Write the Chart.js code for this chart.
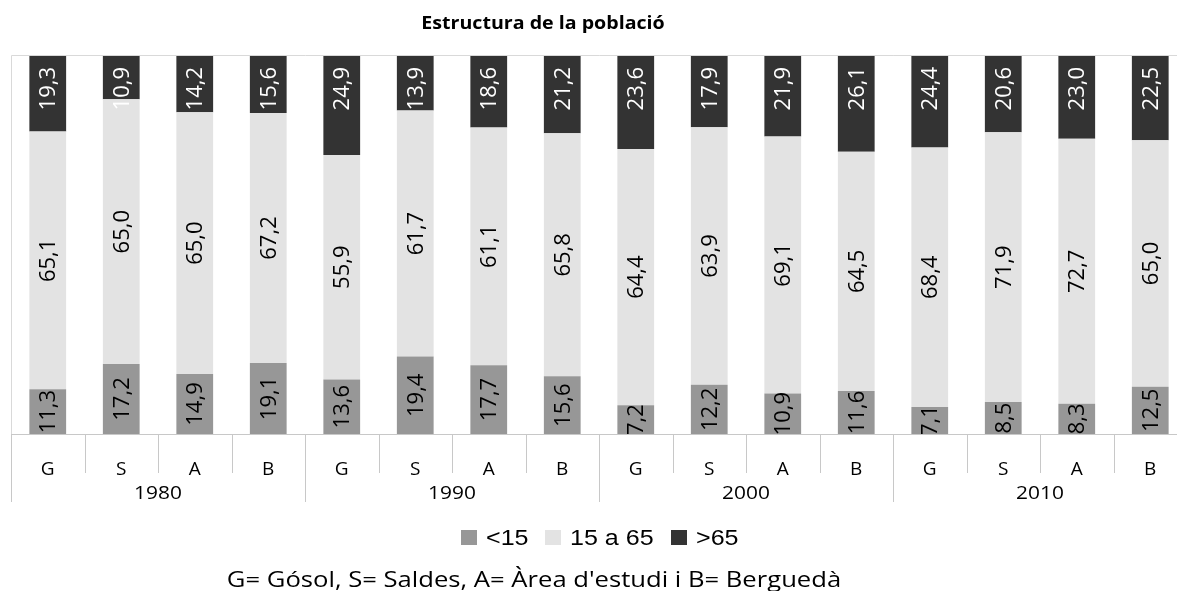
<!DOCTYPE html>
<html>
<head>
<meta charset="utf-8">
<script src="https://cdn.jsdelivr.net/npm/chart.js@4"></script>
<style>
  html, body { margin: 0; padding: 0; background: #fff; overflow: hidden; }
  #wrap { width: 1177px; height: 591px; overflow: hidden; }
</style>
</head>
<body>
<div id="wrap"><canvas id="chart" width="1195" height="591"></canvas></div>
<script>
// === Data ===
const cats = ['G', 'S', 'A', 'B', 'G', 'S', 'A', 'B', 'G', 'S', 'A', 'B', 'G', 'S', 'A', 'B'];
const years = ['1980', '1990', '2000', '2010'];
const under15 = [11.3, 17.2, 14.9, 19.1, 13.6, 19.4, 17.7, 15.6, 7.2, 12.2, 10.9, 11.6, 7.1, 8.5, 8.3, 12.5];
const mid = [65.1, 65.0, 65.0, 67.2, 55.9, 61.7, 61.1, 65.8, 64.4, 63.9, 69.1, 64.5, 68.4, 71.9, 72.7, 65.0];
const over65 = [19.3, 10.9, 14.2, 15.6, 24.9, 13.9, 18.6, 21.2, 23.6, 17.9, 21.9, 26.1, 24.4, 20.6, 23.0, 22.5];
const seriesNames = ['<15', '15 a 65', '>65'];
const colors = ['#979797', '#e3e3e3', '#333333'];

const title = 'Estructura de la població';
const note = "G= Gósol, S= Saldes, A= Àrea d'estudi i B= Berguedà";

// 100% stacked: normalize each column
const raw = [under15, mid, over65];
const totals = cats.map((c, i) => under15[i] + mid[i] + over65[i]);
const pct = raw.map(arr => arr.map((v, i) => v / totals[i] * 100));

const fmt = v => v.toFixed(1).replace('.', ',');

// text drawn a bit wider, like the original (stretched) picture
function wideText(ctx, txt, x, y, sx) {
  ctx.save();
  ctx.translate(x, y);
  ctx.scale(sx, 1);
  ctx.fillText(txt, 0, 0);
  ctx.restore();
}

// === Labels, axis separators, title, legend ===
const decor = {
  id: 'decor',
  afterDatasetsDraw(chart) {
    const ctx = chart.ctx;
    const area = chart.chartArea;
    ctx.save();
    ctx.beginPath();
    ctx.rect(area.left, area.top, area.right - area.left, area.bottom - area.top);
    ctx.clip();
    ctx.font = '22px "Open Sans"';
    ctx.textBaseline = 'middle';
    chart.data.datasets.forEach((ds, d) => {
      const meta = chart.getDatasetMeta(d);
      meta.data.forEach((bar, i) => {
        const txt = fmt(raw[d][i]);
        ctx.save();
        if (d === 2) {
          ctx.translate(bar.x, area.top + 12);
          ctx.rotate(-Math.PI / 2);
          ctx.textAlign = 'right';
          ctx.fillStyle = '#ffffff';
        } else {
          ctx.translate(bar.x, (bar.y + bar.base) / 2);
          ctx.rotate(-Math.PI / 2);
          ctx.textAlign = 'center';
          ctx.fillStyle = '#000000';
        }
        ctx.fillText(txt, 0, 1);
        ctx.restore();
      });
    });
    ctx.restore();
  },
  afterDraw(chart) {
    const ctx = chart.ctx;
    const area = chart.chartArea;
    const x = chart.scales.x;
    const catW = (area.right - area.left) / cats.length;
    ctx.save();

    // plot frame
    ctx.strokeStyle = '#d9d9d9';
    ctx.lineWidth = 1;
    ctx.beginPath();
    ctx.moveTo(area.left + 0.5, area.bottom);
    ctx.lineTo(area.left + 0.5, area.top + 0.5);
    ctx.lineTo(area.right, area.top + 0.5);
    ctx.stroke();

    // category axis line + separators
    ctx.strokeStyle = '#c8c8c8';
    ctx.beginPath();
    ctx.moveTo(area.left, area.bottom + 0.5);
    ctx.lineTo(area.right, area.bottom + 0.5);
    for (let i = 0; i <= cats.length; i++) {
      const px = Math.round(area.left + i * catW) + 0.5;
      ctx.moveTo(px, area.bottom);
      ctx.lineTo(px, area.bottom + (i % 4 === 0 ? 68 : 39));
    }
    ctx.stroke();

    // year labels
    ctx.fillStyle = '#000';
    ctx.font = '19px "Open Sans"';
    ctx.textAlign = 'center';
    ctx.textBaseline = 'middle';
    years.forEach((y, g) => {
      const cx = (x.getPixelForValue(g * 4) + x.getPixelForValue(g * 4 + 3)) / 2;
      wideText(ctx, y, cx, area.bottom + 60, 1.1);
    });

    // title
    ctx.font = 'bold 18px "Open Sans"';
    wideText(ctx, title, 543, 24, 1.09);

    // legend
    ctx.font = '22px "Liberation Sans"';
    ctx.textAlign = 'left';
    const lx = [461, 545, 671];
    seriesNames.forEach((name, k) => {
      ctx.fillStyle = colors[k];
      ctx.fillRect(lx[k], 530, 16, 15);
      ctx.fillStyle = '#000';
      wideText(ctx, name, lx[k] + 25, 539, 1.14);
    });

    // footnote
    ctx.font = '21px "Open Sans"';
    ctx.textAlign = 'center';
    wideText(ctx, note, 534, 581, 1.22);
    ctx.restore();
  }
};

new Chart(document.getElementById('chart'), {
  type: 'bar',
  data: {
    labels: cats,
    datasets: seriesNames.map((name, k) => ({
      label: name,
      data: pct[k],
      backgroundColor: colors[k],
      borderWidth: 0,
      barPercentage: 1,
      categoryPercentage: 0.5
    }))
  },
  options: {
    responsive: false,
    animation: false,
    devicePixelRatio: 1,
    layout: { padding: { left: 11, right: 8, top: 55, bottom: 0 } },
    plugins: {
      legend: { display: false },
      title: { display: false },
      tooltip: { enabled: false }
    },
    scales: {
      x: {
        stacked: true,
        grid: { display: false },
        border: { display: false },
        ticks: {
          color: '#000',
          font: { family: 'Open Sans', size: 19 },
          padding: 16,
          maxRotation: 0,
          autoSkip: false
        },
        afterFit(scale) { scale.height = 157; }
      },
      y: {
        stacked: true,
        display: false,
        min: 0,
        max: 100
      }
    }
  },
  plugins: [decor]
});
</script>
</body>
</html>
